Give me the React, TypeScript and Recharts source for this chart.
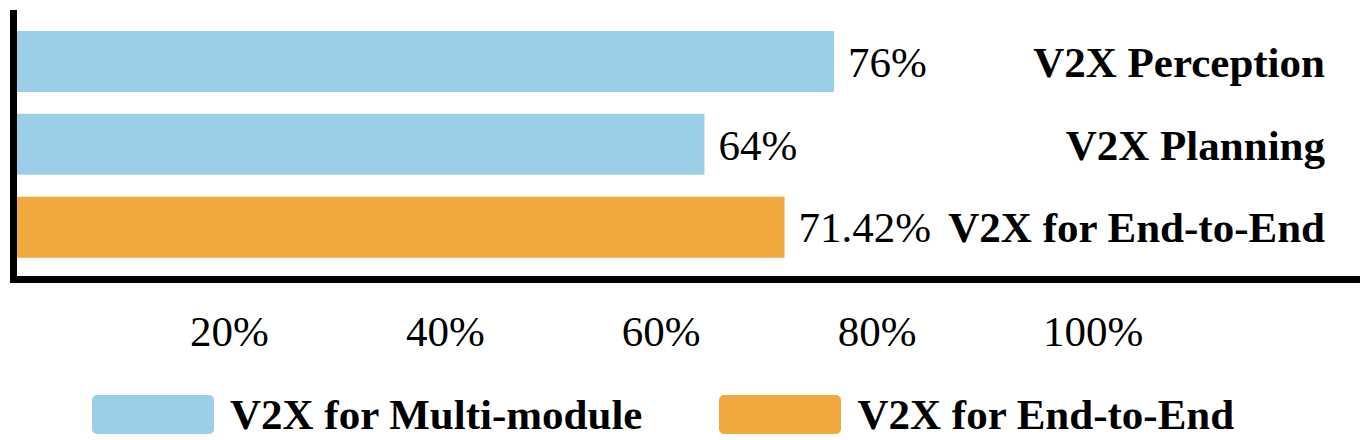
import React from 'react';
import {
    BarChart,
    Bar,
    XAxis,
    YAxis,
    Cell,
    LabelList,
    Legend
} from 'recharts';

// chart values
const categories = ['V2X Perception', 'V2X Planning', 'V2X for End-to-End'];
const values = [76, 64, 71.42];
const groups = ['multi', 'multi', 'e2e'];
const xTicks = [20, 40, 60, 80, 100];

const groupKeys = ['multi', 'e2e'];
const groupNames = ['V2X for Multi-module', 'V2X for End-to-End'];
const groupColors: Record<string, string> = { multi: '#9bcfe8', e2e: '#f0a93e' };

const data = categories.map((name, i) => ({ name, value: values[i], group: groups[i] }));

const FONT = "'Liberation Serif', 'Times New Roman', serif";

const XTick = (props: any) => {
    const { x, y, payload } = props;
    return (
        <text x={x} y={y} dy={66.5} textAnchor="middle" fontSize={43} fill="#000" fontFamily={FONT}>
            {payload.value}%
        </text>
    );
};

// category name, right aligned, one line
const YTick = (props: any) => {
    const { x, y, payload } = props;
    return (
        <text x={x} y={y} dy="0.355em" textAnchor="end" fontSize={43} fontWeight={700} fill="#000" fontFamily={FONT}>
            {payload.value}
        </text>
    );
};

const renderLegend = () => (
    <div
        style={{
            height: 60,
            boxSizing: 'border-box',
            paddingTop: 9,
            paddingLeft: 84,
            display: 'flex',
            alignItems: 'center',
            fontFamily: FONT,
            fontWeight: 700,
            fontSize: 43,
            color: '#000'
        }}
    >
        {groupKeys.map((k, i) => (
            <div key={k} style={{ display: 'flex', alignItems: 'center', marginLeft: i === 0 ? 0 : 77 }}>
                <div style={{ width: 122, height: 39, borderRadius: 5, background: groupColors[k], marginRight: 16 }} />
                <span style={{ whiteSpace: 'nowrap' }}>{groupNames[i]}</span>
            </div>
        ))}
    </div>
);

const App: React.FC = () => (
    <BarChart
        width={1360}
        height={432}
        data={data}
        layout="vertical"
        margin={{ top: 5.5, right: 5, left: 4.5, bottom: 0 }}
        style={{ fontFamily: FONT }}
    >
        <XAxis
            type="number"
            domain={[0, 125]}
            ticks={xTicks}
            interval={0}
            axisLine={{ stroke: '#000', strokeWidth: 7 }}
            tickLine={false}
            tickSize={0}
            tickMargin={0}
            height={100.5}
            tick={<XTick />}
        />
        <YAxis
            yAxisId="left"
            type="category"
            dataKey="name"
            width={1}
            tick={false}
            tickLine={false}
            axisLine={{ stroke: '#000', strokeWidth: 7, strokeLinecap: 'square' }}
            padding={{ top: 6.5, bottom: 11 }}
        />
        {/* category names drawn on the right, inside the plot */}
        <YAxis
            yAxisId="right"
            orientation="right"
            mirror
            type="category"
            dataKey="name"
            width={1}
            interval={0}
            axisLine={false}
            tickLine={false}
            tickSize={0}
            tickMargin={38}
            tick={<YTick />}
            padding={{ top: 6.5, bottom: 11 }}
        />
        <Legend verticalAlign="bottom" content={renderLegend} wrapperStyle={{ left: 0, width: 1360 }} />
        <Bar dataKey="value" yAxisId="left" barSize={61} isAnimationActive={false}>
            {data.map((d) => (
                <Cell key={d.name} fill={groupColors[d.group]} />
            ))}
            <LabelList
                dataKey="value"
                position="right"
                offset={14}
                formatter={(v: any) => `${v}%`}
                fill="#000"
                fontSize={43}
                fontFamily={FONT}
            />
        </Bar>
    </BarChart>
);

export default App;
